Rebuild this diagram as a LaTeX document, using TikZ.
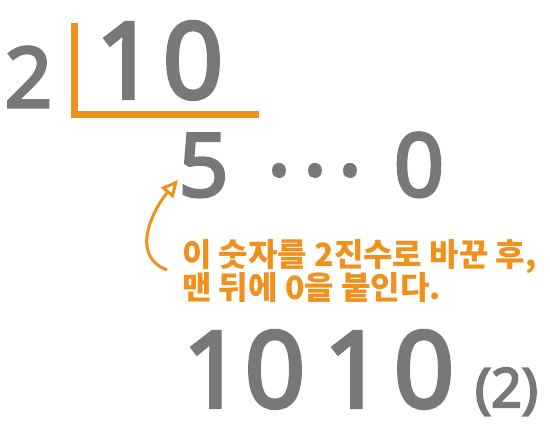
\documentclass[tikz,border=0pt]{standalone}
\usepackage{fontspec}
\setmainfont{Open Sans}[FakeBold=4]
\newfontfamily\krfont{Noto Sans CJK KR}
\usetikzlibrary{positioning, calc, arrows.meta}
\definecolor{digitgray}{RGB}{120,120,120}
\definecolor{markorange}{RGB}{240,145,30}

\begin{document}
\begin{tikzpicture}[
x=1pt, y=-1pt,
digit/.style={inner sep=0pt, anchor=base, text=digitgray, font=\fontsize{#1}{#1}\selectfont},
note/.style={inner sep=0pt, anchor=base west, text=markorange, font=\krfont\bfseries\fontsize{32}{34}\selectfont},
bracket/.style={draw=markorange, line width=7pt},
pointer/.style={draw=markorange, line width=3pt, -{Triangle[open, length=17pt, width=16pt]}}
]
\useasboundingbox (0,0) rectangle (550,438);

% Division - divisor and dividend
\node[digit=83] (divisor) at (28.5,107) {2};
\node[digit=105] (dividend_one) at (126,98) {1};
\node[digit=105] (dividend_zero) at (193,98) {0};
\coordinate (bracket_top) at (74,23);
\coordinate (bracket_end) at (259,114.5);
\draw[bracket] (bracket_top) |- (bracket_end);

% Quotient and remainder
\node[digit=87] (quotient) at (203.5,196) {5};
\foreach \x [count=\i] in {279,315,350}
  \node[digit=87] (dot\i) at (\x,175) {.};
\node[digit=87] (remainder) at (419,196) {0};

% Note with arrow
\node[note] (note_one) at (182,267) {이 숫자를 2진수로 바꾼 후,};
\node[note] (note_two) at ([yshift=-33pt]note_one.base west) {맨 뒤에 0을 붙인다.};
\coordinate (arrow_tail) at (167,270);
\coordinate (arrow_tip) at (178,180);
\draw[pointer] (arrow_tail) .. controls (128,255) and (155,207) .. (arrow_tip);

% Result in binary
\node[digit=105] (bit_a) at (213,407) {1};
\node[digit=105] (bit_b) at (275,407) {0};
\node[digit=105] (bit_c) at (354,407) {1};
\node[digit=105] (bit_d) at (424,407) {0};
\node[digit=54] (base_mark) at (506.5,407) {(2)};

\end{tikzpicture}
\end{document}
